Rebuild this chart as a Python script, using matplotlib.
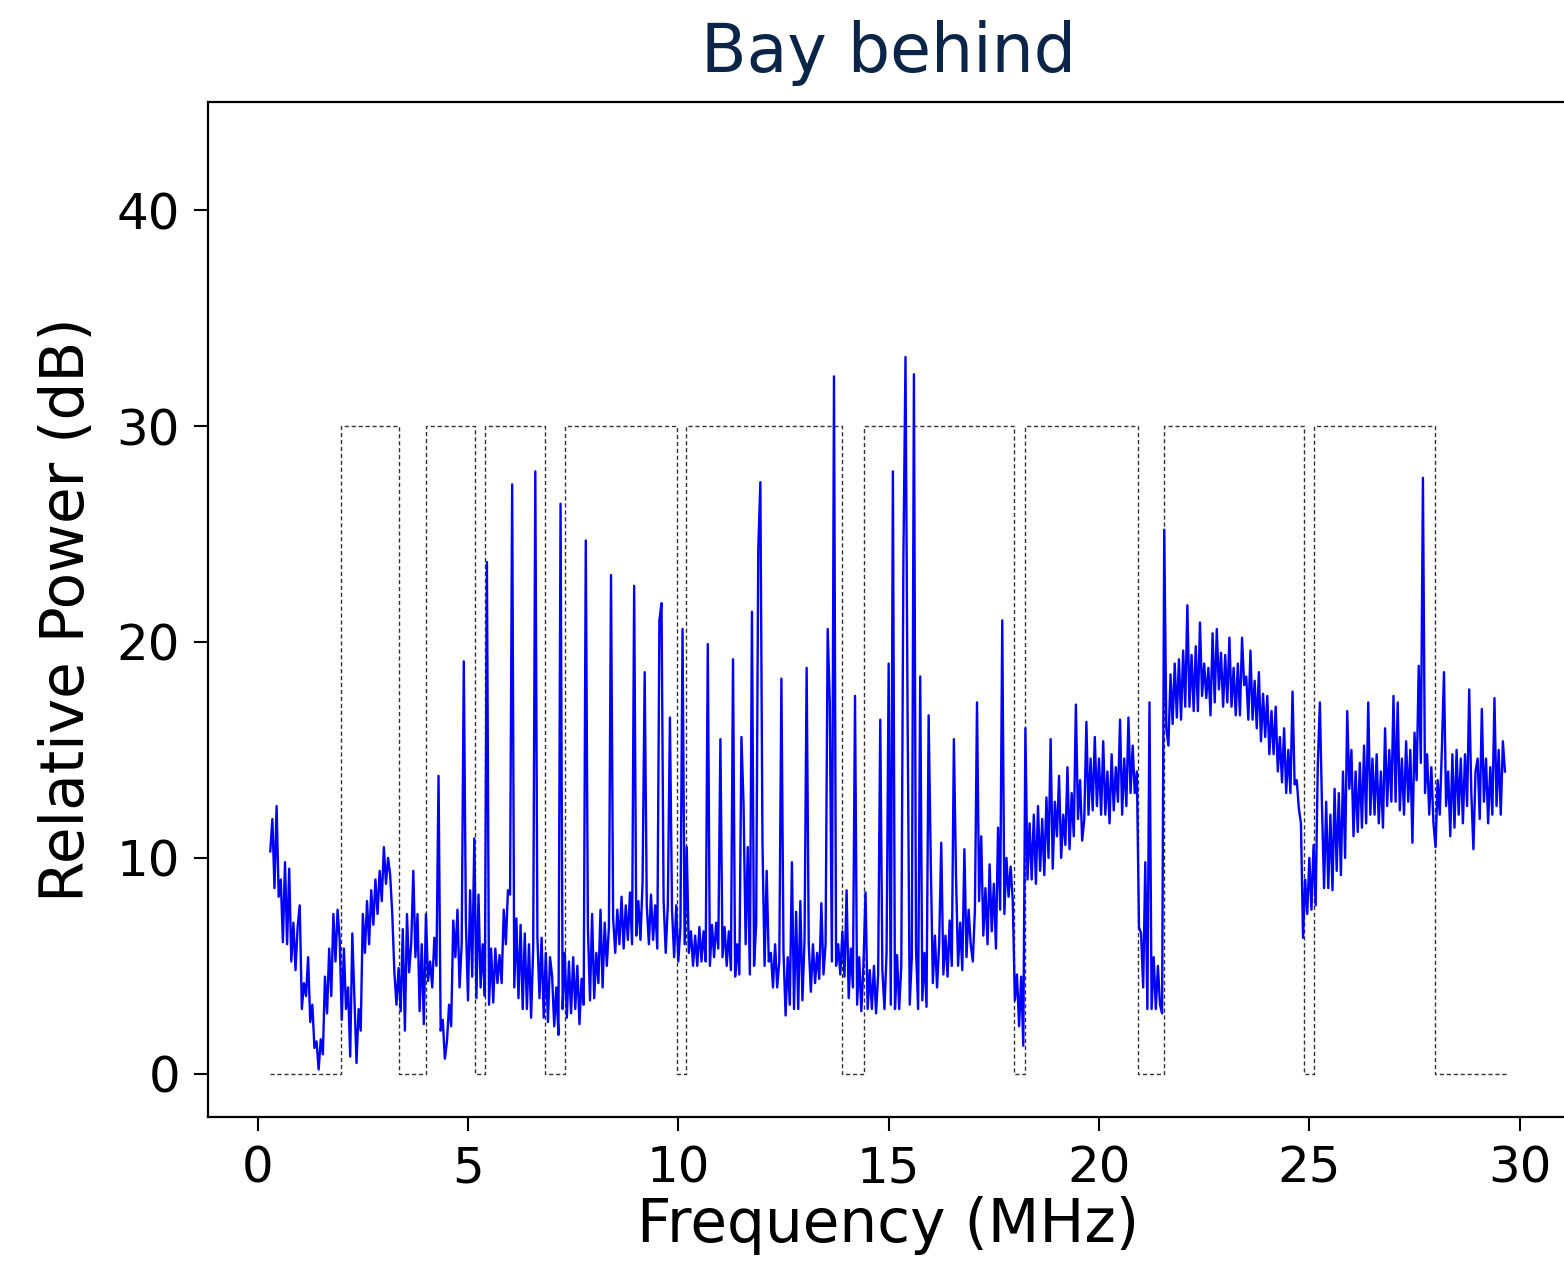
import numpy as np
import matplotlib.pyplot as plt

# noise floor, 0.05 MHz apart, starting at 0.30 MHz
power = [
    10.3, 11.8, 8.6, 12.4, 8.2, 9.0, 6.1, 9.8, 6.0, 9.5, 5.2, 7.0, 4.8, 6.8,                             # 0.30-0.95
    7.8, 3.0, 4.2, 3.6, 5.4, 2.4, 3.2, 1.2, 1.5, 0.2, 1.6, 0.9, 4.5, 2.8, 5.8, 3.6, 7.4, 5.2, 7.6, 6.2,   # 1
    2.5, 5.8, 3.0, 4.0, 0.8, 6.5, 3.5, 0.5, 3.0, 2.0, 7.4, 5.6, 8.0, 6.0, 8.5, 6.9, 9.0, 7.4, 9.4, 8.0,   # 2
    10.5, 8.8, 10.0, 9.2, 7.4, 4.7, 3.2, 4.9, 2.9, 6.7, 2.0, 7.4, 4.7, 6.0, 9.4, 5.4, 7.4, 2.9, 6.0, 2.3, # 3
    7.4, 4.3, 5.2, 4.0, 6.3, 5.0, 4.4, 2.0, 2.5, 0.7, 1.5, 3.2, 2.2, 7.1, 5.4, 7.6, 4.0, 6.0, 5.0, 7.0,   # 4
    3.4, 8.5, 4.5, 10.9, 3.5, 8.3, 4.0, 6.0, 3.6, 5.0, 3.2, 5.8, 3.3, 5.8, 4.2, 5.5, 4.2, 7.6, 6.0, 8.5,  # 5
    8.3, 7.4, 4.0, 7.2, 3.5, 6.9, 3.0, 6.5, 3.0, 6.0, 2.6, 5.8, 2.9, 6.3, 3.5, 6.3, 2.6, 5.6, 2.4, 5.4,   # 6
    4.5, 2.2, 4.0, 1.8, 5.8, 3.0, 5.6, 2.6, 5.2, 2.8, 5.4, 3.0, 5.0, 2.3, 4.4, 3.2, 5.5, 6.8, 3.4, 7.4,   # 7
    3.5, 5.6, 4.2, 7.6, 4.0, 7.0, 5.0, 6.8, 5.0, 7.2, 5.6, 7.6, 6.0, 8.2, 5.8, 7.8, 6.2, 8.4, 6.0, 8.2,   # 8
    6.4, 8.0, 6.2, 8.9, 6.0, 7.8, 6.0, 8.3, 6.2, 7.8, 5.8, 7.6, 6.0, 8.0, 5.6, 7.8, 5.4, 7.6, 5.4, 7.8,   # 9
    5.2, 6.8, 11.6, 6.0, 10.5, 5.6, 6.6, 5.0, 6.4, 5.0, 6.8, 5.2, 6.6, 5.2, 6.6, 5.0, 6.9, 5.4, 7.0, 5.8, # 10
    7.6, 5.4, 6.8, 5.0, 6.6, 4.8, 6.2, 4.5, 6.0, 4.6, 5.4, 12.5, 6.0, 10.5, 4.6, 6.4, 5.0, 6.9, 5.2, 6.5, # 11
    10.7, 5.0, 9.4, 5.2, 5.6, 4.0, 6.0, 4.0, 5.2, 2.8, 5.6, 2.7, 5.4, 3.2, 9.8, 3.0, 7.5, 3.0, 8.0, 3.4,  # 12
    6.2, 4.0, 6.0, 3.8, 6.0, 4.2, 5.6, 4.4, 7.9, 4.6, 6.0, 4.8, 6.4, 5.2, 5.6, 5.0, 6.0, 4.6, 6.6, 4.5,   # 13
    8.5, 3.5, 5.8, 4.0, 5.8, 3.2, 5.4, 2.9, 5.0, 8.4, 3.0, 4.8, 3.0, 5.0, 2.8, 4.6, 3.2, 4.8, 3.0, 5.6,   # 14
    5.4, 3.2, 5.2, 3.0, 5.5, 3.0, 5.0, 2.8, 4.0, 5.2, 3.2, 5.4, 3.2, 5.8, 3.0, 5.6, 3.4, 5.6, 3.1, 6.0,   # 15
    9.9, 4.2, 6.4, 4.0, 6.0, 10.7, 4.6, 6.4, 4.5, 7.1, 5.0, 6.4, 9.2, 5.0, 7.0, 4.8, 10.4, 5.4, 7.6, 6.0, # 16
    5.2, 7.6, 5.8, 8.0, 11.0, 6.4, 8.6, 6.0, 9.7, 6.6, 8.8, 5.8, 11.4, 7.6, 9.6, 7.4, 10.0, 8.2, 9.6, 8.0, # 17
    3.4, 4.6, 2.2, 4.5, 1.3, 1.5, 9.0, 11.6, 9.0, 12.0, 8.8, 12.4, 9.4, 11.8, 9.2, 12.8, 10.0, 15.5, 9.5, 12.6,         # 18
    11.0, 13.8, 10.0, 12.0, 10.6, 14.2, 10.4, 13.0, 11.0, 17.1, 11.8, 13.6, 10.8, 11.8, 16.3, 12.0, 14.6, 12.2, 15.6, 12.4,  # 19
    14.6, 12.0, 15.4, 12.0, 14.0, 11.6, 14.8, 12.2, 14.2, 12.6, 16.4, 12.0, 14.6, 12.4, 16.5, 13.0, 15.2, 13.0, 14.0, 6.8,   # 20
    6.5, 4.0, 9.8, 3.0, 5.6, 3.0, 5.4, 3.0, 5.0, 3.2, 2.8, 14.0, 16.0, 15.2, 18.5, 16.2, 19.0, 16.5, 19.2, 16.4,            # 21
    19.6, 17.0, 21.7, 17.0, 19.4, 16.8, 19.8, 16.8, 20.9, 17.5, 19.0, 17.4, 18.8, 16.6, 20.4, 17.2, 20.6, 17.8, 19.5, 17.0,  # 22
    19.4, 17.2, 20.2, 17.0, 18.8, 16.6, 19.0, 16.6, 20.2, 18.0, 18.4, 16.4, 19.6, 16.4, 18.2, 16.0, 18.6, 15.4, 17.6, 15.6,  # 23
    17.5, 14.8, 16.8, 14.8, 17.0, 14.0, 15.6, 13.5, 16.0, 13.0, 15.0, 13.0, 17.7, 13.4, 13.6, 12.3, 11.6, 6.3, 9.0, 7.4,     # 24
    10.0, 7.6, 10.6, 7.8, 14.3, 8.4, 12.4, 8.6, 12.6, 8.6, 12.0, 8.5, 13.2, 9.4, 13.0, 9.2, 14.0, 10.0, 16.8, 13.2,         # 25
    15.0, 11.0, 14.0, 11.2, 14.4, 11.4, 15.2, 11.6, 17.2, 12.0, 14.6, 12.0, 14.8, 11.6, 14.0, 11.4, 16.0, 12.4, 15.0, 12.6,  # 26
    17.5, 12.6, 17.2, 12.2, 14.6, 12.0, 15.4, 12.6, 15.0, 10.7, 15.8, 13.6, 18.9, 14.4, 17.4, 13.0, 14.8, 12.0, 14.2, 11.6,  # 27
    10.5, 13.6, 12.0, 15.0, 18.6, 12.4, 14.0, 11.0, 14.8, 11.4, 15.0, 12.0, 14.6, 11.6, 14.8, 12.4, 17.8, 13.0, 10.4, 14.0,  # 28
    14.6, 11.8, 16.9, 12.6, 14.6, 11.6, 14.2, 12.0, 17.4, 12.4, 15.0, 12.0, 15.4, 14.0,                                      # 29.00-29.65
]

# narrow carriers sticking out of the floor
spike_freq = [4.30, 4.92, 5.46, 6.05, 6.62, 7.22, 7.79, 8.38, 8.97, 9.20,
              9.56, 9.60, 9.81, 10.12, 10.70, 11.00, 11.30, 11.51, 11.77, 11.89,
              11.93, 12.46, 13.04, 13.54, 13.62, 13.70, 14.21, 14.78, 14.98, 15.12,
              15.37, 15.41, 15.44, 15.58, 15.73, 15.95, 16.54, 17.12, 17.69, 18.27,
              21.22, 21.53, 25.27, 27.68]
spike_power = [13.8, 19.1, 23.7, 27.3, 27.9, 26.4, 24.7, 23.1, 22.6, 18.6,
               21.0, 21.8, 16.5, 20.6, 19.9, 15.5, 19.2, 15.6, 21.4, 24.3,
               27.4, 18.3, 18.8, 20.6, 17.2, 32.3, 17.5, 16.4, 19.0, 27.9,
               23.8, 33.2, 16.5, 32.4, 18.4, 16.6, 15.5, 17.2, 21.0, 16.0,
               17.2, 25.2, 17.2, 27.6]

# allowed bands (dashed mask), MHz
band_lo = [1.97, 4.01, 5.41, 7.31, 10.19, 14.41, 18.25, 21.54, 25.11]
band_hi = [3.35, 5.16, 6.84, 9.96, 13.89, 17.99, 20.93, 24.87, 27.98]
mask_start, mask_end = 0.29, 29.68
mask_level = 30

f0, df = 0.30, 0.05
freq = f0 + df * np.arange(len(power))
trace = np.array(power, dtype=float)
idx = np.rint((np.array(spike_freq) - f0) / df).astype(int)
trace[idx] = np.maximum(trace[idx], spike_power)

mx, my = [mask_start], [0]
for lo, hi in zip(band_lo, band_hi):
    mx += [lo, lo, hi, hi]
    my += [0, mask_level, mask_level, 0]
mx.append(mask_end)
my.append(0)

fig = plt.figure(figsize=(15.64, 12.67), dpi=100)
ax = fig.add_axes([0.133, 0.1184, 0.8696, 0.801])

ax.plot(mx, my, color='#333333', lw=1.0, ls=(0, (3, 2)))
ax.plot(freq, trace, color='#0000ff', lw=1.7)

ax.set_xlim(-1.18, 31.15)
ax.set_ylim(-2, 45)
ax.set_xticks([0, 5, 10, 15, 20, 25, 30])
ax.set_yticks([0, 10, 20, 30, 40])
ax.tick_params(labelsize=36, length=10, width=1.5, pad=10)
for s in ax.spines.values():
    s.set_linewidth(1.6)

ax.set_xlabel('Frequency (MHz)', fontsize=43, labelpad=2)
ax.set_ylabel('Relative Power (dB)', fontsize=43, labelpad=14)

fig.text(0.568, 0.943, 'Bay behind', fontsize=48, color='#0b2548',
         family=['DejaVu Sans'], ha='center', va='baseline')

fig.savefig('out.png', dpi=100)
